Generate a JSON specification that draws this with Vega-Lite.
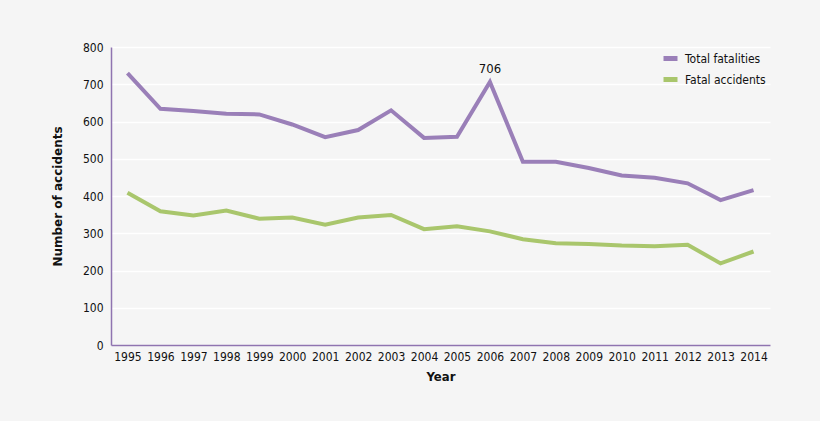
{
  "$schema": "https://vega.github.io/schema/vega-lite/v6.json",
  "width": 659,
  "height": 298,
  "autosize": {"type": "none"},
  "padding": {"left": 111, "top": 47, "right": 50, "bottom": 76},
  "background": "#f5f5f5",
  "config": {
    "view": {"stroke": null},
    "font": "DejaVu Sans Condensed, Roboto, sans-serif",
    "axis": {"labelFont": "DejaVu Sans Condensed, Roboto, sans-serif", "titleFont": "DejaVu Sans Condensed, Roboto, sans-serif"},
    "legend": {"labelFont": "DejaVu Sans Condensed, Roboto, sans-serif"}
  },
  "data": {
    "values": [
      {"year": "1995", "series": "Total fatalities", "value": 730},
      {"year": "1996", "series": "Total fatalities", "value": 634},
      {"year": "1997", "series": "Total fatalities", "value": 628},
      {"year": "1998", "series": "Total fatalities", "value": 621},
      {"year": "1999", "series": "Total fatalities", "value": 619},
      {"year": "2000", "series": "Total fatalities", "value": 592},
      {"year": "2001", "series": "Total fatalities", "value": 558},
      {"year": "2002", "series": "Total fatalities", "value": 577},
      {"year": "2003", "series": "Total fatalities", "value": 630},
      {"year": "2004", "series": "Total fatalities", "value": 556},
      {"year": "2005", "series": "Total fatalities", "value": 559},
      {"year": "2006", "series": "Total fatalities", "value": 706},
      {"year": "2007", "series": "Total fatalities", "value": 492},
      {"year": "2008", "series": "Total fatalities", "value": 492},
      {"year": "2009", "series": "Total fatalities", "value": 475},
      {"year": "2010", "series": "Total fatalities", "value": 455},
      {"year": "2011", "series": "Total fatalities", "value": 449},
      {"year": "2012", "series": "Total fatalities", "value": 434},
      {"year": "2013", "series": "Total fatalities", "value": 389},
      {"year": "2014", "series": "Total fatalities", "value": 416},
      {"year": "1995", "series": "Fatal accidents", "value": 409},
      {"year": "1996", "series": "Fatal accidents", "value": 359},
      {"year": "1997", "series": "Fatal accidents", "value": 348},
      {"year": "1998", "series": "Fatal accidents", "value": 361},
      {"year": "1999", "series": "Fatal accidents", "value": 339},
      {"year": "2000", "series": "Fatal accidents", "value": 342},
      {"year": "2001", "series": "Fatal accidents", "value": 323},
      {"year": "2002", "series": "Fatal accidents", "value": 342},
      {"year": "2003", "series": "Fatal accidents", "value": 349},
      {"year": "2004", "series": "Fatal accidents", "value": 311},
      {"year": "2005", "series": "Fatal accidents", "value": 319},
      {"year": "2006", "series": "Fatal accidents", "value": 305},
      {"year": "2007", "series": "Fatal accidents", "value": 284},
      {"year": "2008", "series": "Fatal accidents", "value": 273},
      {"year": "2009", "series": "Fatal accidents", "value": 271},
      {"year": "2010", "series": "Fatal accidents", "value": 267},
      {"year": "2011", "series": "Fatal accidents", "value": 265},
      {"year": "2012", "series": "Fatal accidents", "value": 269},
      {"year": "2013", "series": "Fatal accidents", "value": 219},
      {"year": "2014", "series": "Fatal accidents", "value": 251}
    ]
  },
  "encoding": {
    "x": {
      "field": "year", "type": "ordinal",
      "scale": {"type": "point", "padding": 0.5},
      "axis": {
        "title": "Year", "titleFontSize": 13, "titleFontWeight": "bold", "titleColor": "#111", "titlePadding": 8,
        "labelAngle": 0, "labelFontSize": 12, "labelColor": "#111", "labelPadding": 6,
        "ticks": false, "domainColor": "#8f74b0", "domainWidth": 1.5, "grid": false
      }
    },
    "y": {
      "field": "value", "type": "quantitative",
      "scale": {"domain": [0, 800]},
      "axis": {
        "title": "Number of accidents", "titleFont": "DejaVu Sans", "titleFontSize": 12, "titleFontWeight": "bold", "titleColor": "#111", "titlePadding": 18,
        "values": [0, 100, 200, 300, 400, 500, 600, 700, 800],
        "labelFontSize": 12, "labelColor": "#111", "labelPadding": 8,
        "ticks": false, "domainColor": "#8f74b0", "domainWidth": 1.5,
        "grid": true, "gridColor": "#ffffff", "gridWidth": 1.5
      }
    }
  },
  "layer": [
    {
      "mark": {"type": "line", "strokeWidth": 4},
      "encoding": {
        "color": {
          "field": "series", "type": "nominal",
          "scale": {"domain": ["Total fatalities", "Fatal accidents"], "range": ["#9a7fb8", "#a9c66c"]},
          "legend": {
            "title": null, "orient": "none", "legendX": 550, "legendY": 2,
            "symbolType": "stroke", "symbolStrokeWidth": 5, "symbolSize": 196,
            "labelFontSize": 12, "labelColor": "#111", "rowPadding": 0, "labelOffset": 5
          }
        }
      }
    },
    {
      "transform": [{"filter": "datum.series == 'Total fatalities' && datum.year == '2006'"}],
      "mark": {"type": "text", "dy": -13, "fontSize": 13, "color": "#111"},
      "encoding": {"text": {"field": "value", "type": "quantitative"}}
    }
  ]
}
